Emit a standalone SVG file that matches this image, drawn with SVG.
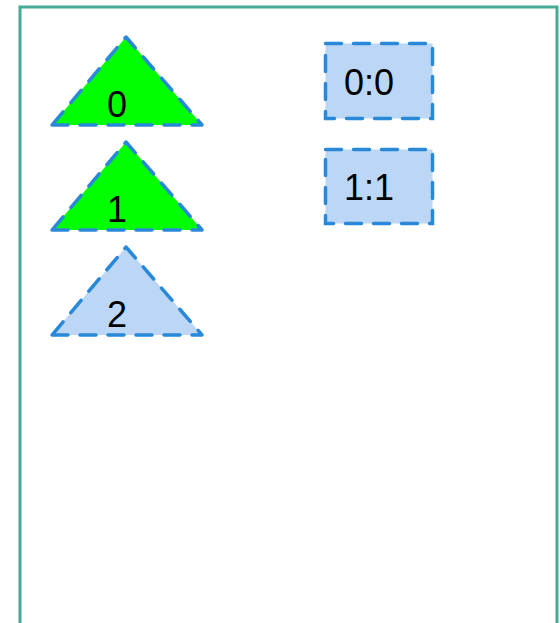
<svg xmlns="http://www.w3.org/2000/svg" width="560" height="623" viewBox="0 0 560 623">
<style>
.frame{fill:#ffffff;stroke:#45ab95;stroke-width:3}
.tri{stroke:#2a88d8;stroke-width:3.5;stroke-dasharray:16 12;stroke-linejoin:round;stroke-linecap:round}
.box{fill:#bbd7f5;stroke:#2a88d8;stroke-width:3.5;stroke-dasharray:16 12;stroke-linecap:round}
.g{fill:#00ff00}
.b{fill:#bbd7f5}
text{font-family:"Liberation Sans",Arial,sans-serif;fill:#000}
.tl{font-size:36px;text-anchor:middle}
.bl{font-size:36px}
</style>
<rect class="frame" x="20" y="7" width="537" height="630"/>
<g id="node-t0"><polygon class="tri g" points="52,125 202,125 126,37"/><text class="tl" x="117" y="117">0</text></g>
<g id="node-t1"><polygon class="tri g" points="52,230 202,230 126,142"/><text class="tl" x="117" y="222">1</text></g>
<g id="node-t2"><polygon class="tri b" points="52,335 202,335 126,247"/><text class="tl" x="117" y="327">2</text></g>
<g id="node-r0"><rect class="box" x="325.5" y="43.5" width="107" height="75"/><text class="bl" x="344" y="95">0:0</text></g>
<g id="node-r1"><rect class="box" x="325.5" y="149.5" width="107" height="74"/><text class="bl" x="344" y="200">1:1</text></g>
<g id="connectors"></g>
</svg>
